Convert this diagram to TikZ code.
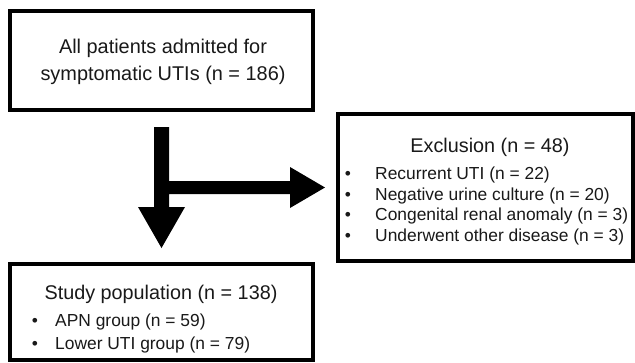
\documentclass[tikz,border=0pt]{standalone}
\usepackage{fontspec}
\setmainfont{Liberation Sans}
\begin{document}
\begin{tikzpicture}[x=1pt,y=-1pt,
  box/.style={draw=black,line width=4pt,fill=white},
  big/.style={font=\fontsize{19.9}{27}\selectfont,text=black!90},
  ttl/.style={font=\fontsize{19.8}{20}\selectfont,text=black!90,anchor=base},
  itm/.style={font=\fontsize{17.4}{20}\selectfont,text=black!90,anchor=base west,inner sep=0pt},
  bul/.style={font=\fontsize{17.4}{20}\selectfont,text=black!90,anchor=base,inner sep=0pt},
  fat/.style={fill=black,draw=none}]
\useasboundingbox (0,0) rectangle (635,362);
% boxes
\draw[box] (10,11) coordinate (b1nw) rectangle (313,110) coordinate (b1se);
\draw[box] (338,114) coordinate (b2nw) rectangle (633,261) coordinate (b2se);
\draw[box] (10,264) coordinate (b3nw) rectangle (313,360) coordinate (b3se);
% texts box 1
\node[big,align=center] (t1) at (163,62) {All patients admitted for\\symptomatic UTIs (n = 186)};
% box 2
\node[ttl] (t2) at (490,152) {Exclusion (n = 48)};
\foreach \y/\t [count=\i] in {179/Recurrent UTI (n = 22),200/Negative urine culture (n = 20),220/Congenital renal anomaly (n = 3),241/Underwent other disease (n = 3)}{
  \node[bul] (b2\i) at (348,\y) {•};
  \node[itm] (e\i) at (375,\y) {\t};
}
% box 3
\node[ttl] (t3) at (161,299) {Study population (n = 138)};
\node[bul] (b31) at (35,326) {•};
\node[itm] (s1) at (55,326) {APN group (n = 59)};
\node[bul] (b32) at (35,349) {•};
\node[itm] (s2) at (55,349) {Lower UTI group (n = 79)};
% fat arrows
\fill[fat] (154,127) -- (169,127) -- (169,181) -- (290,181) -- (290,167) -- (325,187.5)
  -- (290,208) -- (290,194) -- (169,194) -- (169,207) -- (185,207) -- (161.5,248)
  -- (138,207) -- (154,207) -- cycle;
\end{tikzpicture}
\end{document}
